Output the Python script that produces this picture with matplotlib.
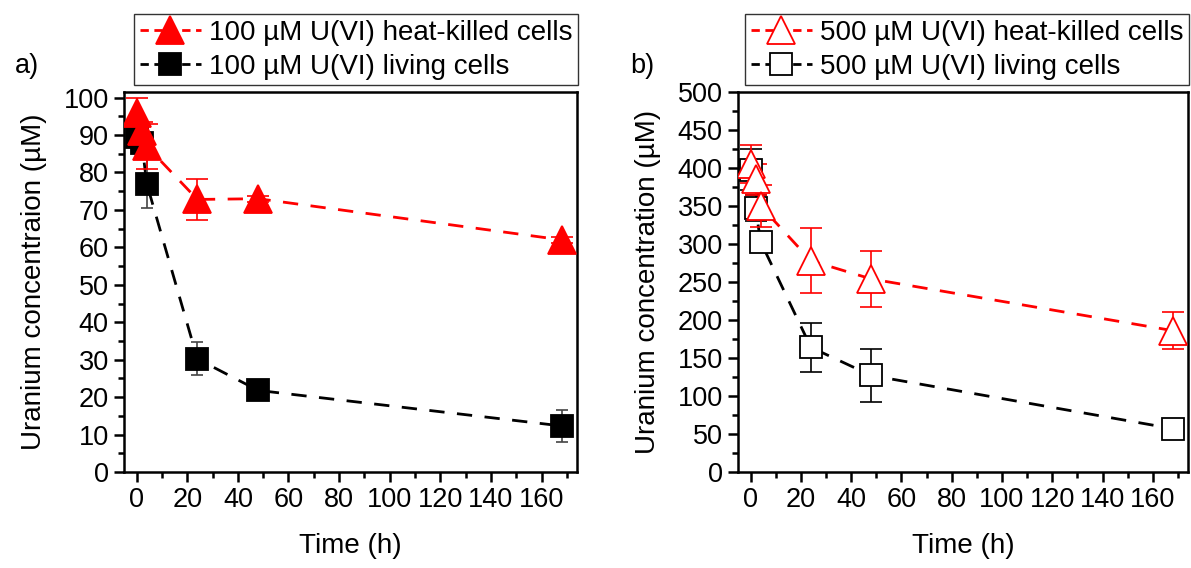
import matplotlib

matplotlib.use("Agg")
import matplotlib.pyplot as plt
import matplotlib.ticker as mticker

plt.rcParams["font.family"] = ["Liberation Sans", "DejaVu Sans"]

# sampling times (h)
time_h = [0, 2, 4, 24, 48, 168]

# a) 100 uM U(VI)
hk100 = [96, 91, 87, 72.8, 73, 62]
hk100_err = [4, 2.5, 6, 5.5, 0.8, 0.8]
lv100 = [89.5, 88, 77, 30.2, 21.8, 12.3]
lv100_err = [2, 3, 6.5, 4.4, 0.5, 4.3]

# b) 500 uM U(VI)
hk500 = [405, 385, 350, 278, 254, 186]
hk500_err = [25, 20, 28, 43, 37, 24]
lv500 = [398, 347, 303, 164, 127, 57]
lv500_err = [27, 17, 8, 32, 35, 4]

W, H = 1191, 568
DASH = (0, (5.5, 4.5))


def series(ax, y, err, color, marker, ms, filled, label, capsize, ecolor=None):
    ax.plot(time_h, y, color=color, lw=2, linestyle=DASH, zorder=2)
    ax.errorbar(
        time_h, y, yerr=err, fmt="none", ecolor=ecolor or color,
        elinewidth=1.2, capsize=capsize, capthick=1.2, zorder=3,
    )
    mfc = color if filled else "white"
    ax.plot(time_h, y, linestyle="none", marker=marker, ms=ms, mfc=mfc,
            mec=color, mew=1.3, zorder=4)
    # legend proxy
    ax.plot([], [], color=color, lw=2, linestyle=(0, (3, 2)), marker=marker,
            ms=ms, mfc=mfc, mec=color, mew=1.3, label=label)


def style_axes(ax, ymax, ymajor, yminor, ylabel):
    ax.set_xlim(-5, 174)
    ax.set_ylim(0, ymax)
    ax.xaxis.set_major_locator(mticker.MultipleLocator(20))
    ax.xaxis.set_minor_locator(mticker.MultipleLocator(10))
    ax.yaxis.set_major_locator(mticker.MultipleLocator(ymajor))
    ax.yaxis.set_minor_locator(mticker.MultipleLocator(yminor))
    ax.tick_params(which="both", direction="out", width=1.8, labelsize=19.5,
                   top=False, right=False)
    ax.tick_params(which="major", length=7, pad=4)
    ax.tick_params(which="minor", length=4)
    for s in ax.spines.values():
        s.set_linewidth(1.8)
    ax.set_xlabel("Time (h)", fontsize=20, labelpad=14)
    ax.set_ylabel(ylabel, fontsize=20, labelpad=12)


fig = plt.figure(figsize=(W / 100, H / 100), dpi=100)
ax1 = fig.add_axes([124 / W, 96 / H, 453 / W, 380 / H])
ax2 = fig.add_axes([738 / W, 96 / H, 450 / W, 380 / H])

series(ax1, lv100, lv100_err, "black", "s", 16, True,
       "100 µM U(VI) living cells", 4, ecolor="#444444")
series(ax1, hk100, hk100_err, "red", "^", 20, True,
       "100 µM U(VI) heat-killed cells", 8)
style_axes(ax1, 101.5, 10, 5, "Uranium concentraion (µM)")

series(ax2, lv500, lv500_err, "black", "s", 16, False,
       "500 µM U(VI) living cells", 8)
series(ax2, hk500, hk500_err, "red", "^", 20, False,
       "500 µM U(VI) heat-killed cells", 8)
style_axes(ax2, 500, 50, 25, "Uranium concentration (µM)")

for ax, anchor in ((ax1, 578 / W), (ax2, 1189 / W)):
    h, l = ax.get_legend_handles_labels()
    leg = fig.legend(h[::-1], l[::-1], loc="upper right",
                     bbox_to_anchor=(anchor, 1 - 14 / H), fontsize=20,
                     frameon=True, fancybox=False, framealpha=1,
                     edgecolor="#333333", borderpad=0.2, labelspacing=0.3,
                     handlelength=2.2, handletextpad=0.3, borderaxespad=0)
    leg.get_frame().set_linewidth(1.0)

fig.text(15 / W, 1 - 66 / H, "a)", fontsize=19.5, va="center")
fig.text(630 / W, 1 - 66 / H, "b)", fontsize=19.5, va="center")

fig.savefig("out.png", dpi=100)
